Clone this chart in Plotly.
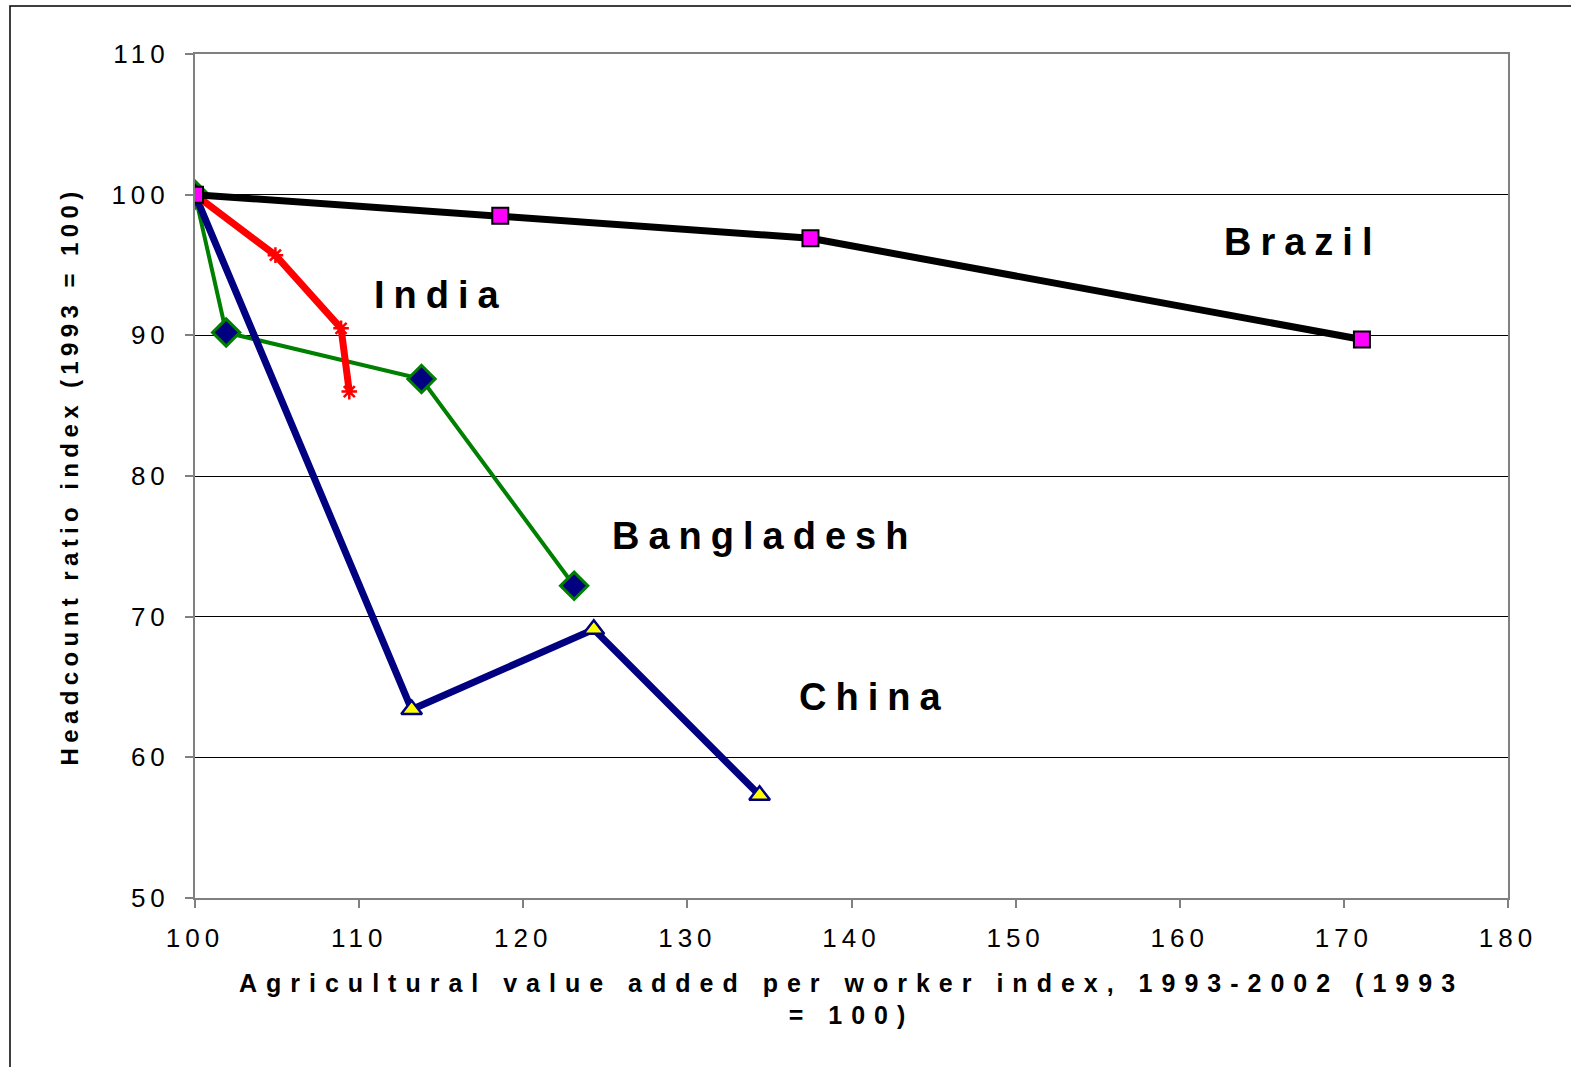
import plotly.graph_objects as go

# ---- data ----
brazil_x = [100, 118.6, 137.5, 171.1]
brazil_y = [100, 98.5, 96.9, 89.7]

india_x = [100, 104.9, 108.9, 109.4]
india_y = [100, 95.7, 90.5, 86.0]

bangladesh_x = [100, 101.9, 113.8, 123.1]
bangladesh_y = [100, 90.2, 86.9, 72.2]

china_x = [100, 113.2, 124.3, 134.4]
china_y = [100, 63.4, 69.1, 57.3]

x_ticks = [100, 110, 120, 130, 140, 150, 160, 170, 180]
y_ticks = [50, 60, 70, 80, 90, 100, 110]

labels = ["Brazil", "India", "Bangladesh", "China"]
label_x = [162.6, 110.8, 125.3, 136.7]
label_y = [96.6, 92.9, 75.7, 64.3]

FONT = "Liberation Sans"


def spaced(txt, sp):
    return f'<span style="letter-spacing:{sp}px">{txt}</span>'


fig = go.Figure()

fig.add_trace(go.Scatter(
    x=bangladesh_x, y=bangladesh_y, mode="lines+markers", name="Bangladesh",
    line=dict(color="#008000", width=4),
    marker=dict(symbol="diamond", size=21, color="#000080",
                line=dict(color="#008000", width=3)),
))
fig.add_trace(go.Scatter(
    x=china_x, y=china_y, mode="lines+markers", name="China",
    line=dict(color="#000080", width=7),
    marker=dict(symbol="triangle-up", size=18, color="#FFFF00",
                line=dict(color="#000080", width=2.5)),
))
fig.add_trace(go.Scatter(
    x=india_x, y=india_y, mode="lines+markers", name="India",
    line=dict(color="#FF0000", width=7),
    marker=dict(symbol="asterisk-open", size=13, color="#FF0000",
                line=dict(color="#FF0000", width=2.5)),
))
fig.add_trace(go.Scatter(
    x=brazil_x, y=brazil_y, mode="lines+markers", name="Brazil",
    line=dict(color="#000000", width=7),
    marker=dict(symbol="square", size=16, color="#FF00FF",
                line=dict(color="#000000", width=2)),
))

for t, lx, ly in zip(labels, label_x, label_y):
    fig.add_annotation(
        x=lx, y=ly, xref="x", yref="y", text=spaced(t, 9),
        showarrow=False, xanchor="left", yanchor="middle",
        font=dict(family=FONT, size=38, color="#000000", weight="bold"),
    )

# outer frame
fig.add_shape(type="rect", xref="paper", yref="paper",
              x0=-0.1409, x1=1.06, y0=-0.25, y1=1.0569,
              line=dict(color="#000000", width=1.5), layer="below")

fig.update_layout(
    width=1571, height=1067,
    margin=dict(l=195, r=63, t=54, b=169),
    paper_bgcolor="white", plot_bgcolor="white",
    showlegend=False,
    font=dict(family=FONT, color="#000000"),
)

fig.update_xaxes(
    range=[100, 180], tickvals=x_ticks,
    ticktext=[spaced(str(v), 5) for v in x_ticks],
    tickfont=dict(family=FONT, size=26, color="#000000"),
    ticklabelstandoff=8,
    showgrid=False, zeroline=False,
    showline=True, linecolor="#808080", linewidth=2, mirror=True,
    ticks="outside", ticklen=8, tickcolor="#808080", tickwidth=1.5,
    title=dict(
        text=spaced("Agricultural value added per worker index, 1993-2002 (1993", 9)
        + "<br>" + spaced("= 100)", 9),
        font=dict(family=FONT, size=25, color="#000000", weight="bold"),
        standoff=22,
    ),
)
fig.update_yaxes(
    range=[50, 110], tickvals=y_ticks,
    ticktext=[spaced(str(v), 5) for v in y_ticks],
    tickfont=dict(family=FONT, size=26, color="#000000"),
    ticklabelstandoff=10,
    showgrid=True, gridcolor="#000000", gridwidth=1, zeroline=False,
    showline=True, linecolor="#808080", linewidth=2, mirror=True,
    ticks="outside", ticklen=8, tickcolor="#808080", tickwidth=1.5,
    title=dict(
        text=spaced("Headcount ratio index (1993 = 100)", 5.4),
        font=dict(family=FONT, size=24, color="#000000", weight="bold"),
        standoff=26,
    ),
)

fig.write_html("out.html", config={"displayModeBar": False},
               post_script="document.body.style.margin='0';")
